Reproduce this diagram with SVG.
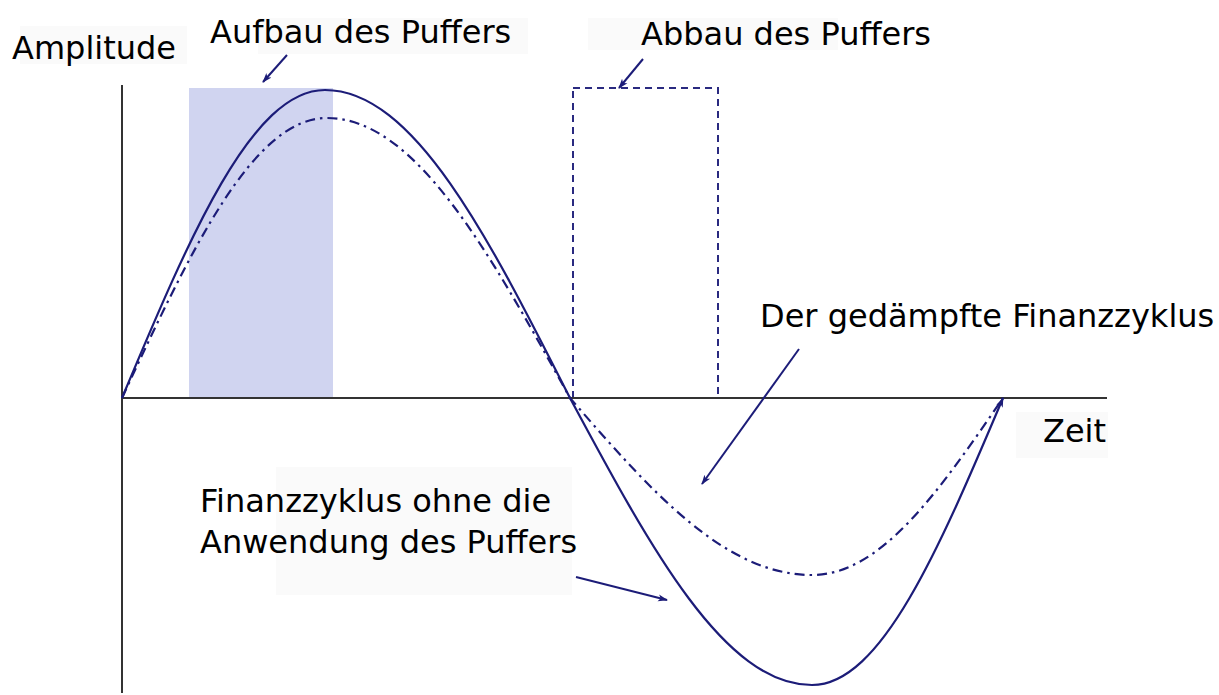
<svg xmlns="http://www.w3.org/2000/svg" width="1219" height="695" viewBox="0 0 1219 695">
<style>
text{font-family:"DejaVu Sans","Noto Sans",sans-serif;font-size:32px;fill:#000}
.bg{fill:#fafafa}
.axis{stroke:#333;stroke-width:2;fill:none}
.cur{stroke:#1c1c78;stroke-width:2.2;fill:none}
.dd{stroke:#1c1c78;stroke-width:2.2;fill:none;stroke-dasharray:10 5 2.5 5}
.ar{stroke:#1c1c78;stroke-width:2;fill:none;marker-end:url(#ah)}
</style>
<defs>
<marker id="ah" viewBox="0 0 10 10" refX="9" refY="5" markerWidth="10" markerHeight="10" markerUnits="userSpaceOnUse" orient="auto">
<path d="M0,1.5 L10,5 L0,8.5 L2.5,5 Z" fill="#1c1c78"/>
</marker>
</defs>
<g id="backgrounds">
<rect class="bg" x="20" y="26" width="167" height="38"/>
<rect class="bg" x="258" y="18" width="270" height="36"/>
<rect class="bg" x="588" y="18" width="250" height="32"/>
<rect class="bg" x="1016" y="412" width="92" height="46"/>
<rect class="bg" x="276" y="467" width="296" height="128"/>
</g>
<g id="aufbau-area"><rect x="189" y="88" width="144" height="310" fill="#d0d4f0"/></g>
<g id="abbau-area"><rect x="573" y="88" width="145" height="310" fill="none" stroke="#2a2a80" stroke-width="2" stroke-dasharray="7 5"/></g>
<g id="axes">
<line class="axis" x1="122" y1="85" x2="122" y2="693"/>
<line class="axis" x1="122" y1="398" x2="1107" y2="398"/>
</g>
<g id="curve-damped">
<path class="dd" d="M122,398 C190.5,251 252.8,118 327,118 C415,118 488.8,251 570,398 C650.9,491 724.4,575 812,575 C881.2,575 939.2,491 1003,398"/>
</g>
<g id="curve-undamped">
<path class="cur" marker-end="url(#ah)" d="M122,398 C189.8,236.3 251.5,90 325,90 C413.7,90 488.1,236.3 570,398 C650.9,548.7 724.4,685 812,685 C881.2,685 939.2,548.7 1003,398"/>
</g>
<g id="connectors">
<line class="ar" x1="287" y1="55" x2="263" y2="82"/>
<line class="ar" x1="643" y1="59" x2="619" y2="88"/>
<line class="ar" x1="799" y1="349" x2="702" y2="484"/>
<line class="ar" x1="576" y1="577" x2="667" y2="600"/>
</g>
<g id="labels">
<text x="12" y="59">Amplitude</text>
<text x="210" y="43">Aufbau des Puffers</text>
<text x="641" y="45">Abbau des Puffers</text>
<text x="760" y="327">Der gedämpfte Finanzzyklus</text>
<text x="1043" y="442">Zeit</text>
<text x="200" y="512">Finanzzyklus ohne die</text>
<text x="200" y="553">Anwendung des Puffers</text>
</g>
</svg>
